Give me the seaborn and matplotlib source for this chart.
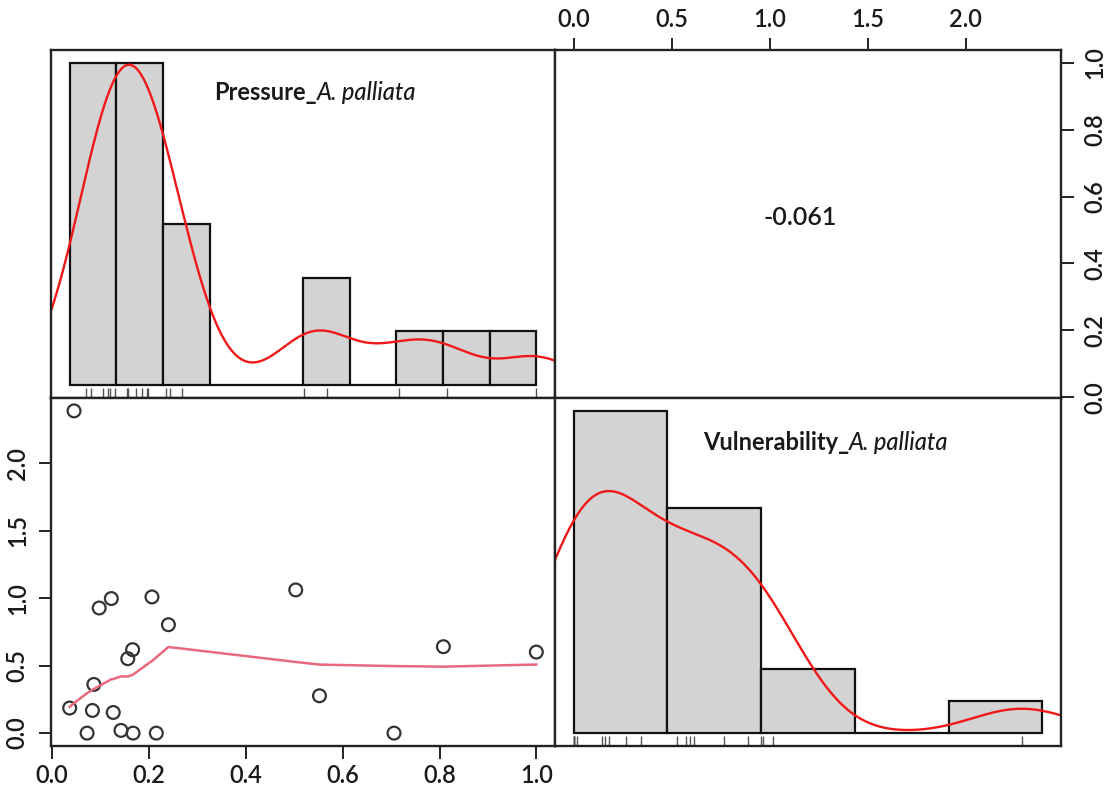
import numpy as np
import matplotlib
matplotlib.use("Agg")
import matplotlib.pyplot as plt
import seaborn as sns

# ---------------- data ----------------
pressure = [0.045, 0.036, 0.072, 0.083, 0.086, 0.097, 0.122, 0.126, 0.142, 0.156,
            0.166, 0.167, 0.206, 0.215, 0.240, 0.503, 0.552, 0.706, 0.808, 1.000]
vulnerability = [2.39, 0.186, 0.0, 0.168, 0.361, 0.928, 0.998, 0.153, 0.02, 0.552,
                 0.619, 0.0, 1.01, 0.0, 0.804, 1.062, 0.277, 0.0, 0.641, 0.601]
pressure_breaks = [0.0, 0.1, 0.2, 0.3, 0.4, 0.5, 0.6, 0.7, 0.8, 0.9, 1.0]
vulnerability_breaks = [0.0, 0.5, 1.0, 1.5, 2.0, 2.5]
pressure_ticks = [0.0, 0.2, 0.4, 0.6, 0.8, 1.0]
pressure_ticks_right = [0.0, 0.2, 0.4, 0.6, 0.8, 1.0]
vulnerability_ticks = [0.0, 0.5, 1.0, 1.5, 2.0]
corr_label = "-0.061"
var_bold = ["Pressure_", "Vulnerability_"]
var_italic = ["A. palliata", "A. palliata"]

plt.rcParams['font.family'] = ['Lato', 'DejaVu Sans']
FS = 17
EDGE = "#222222"
TICKW = "semibold"


def nrd0(x):
    x = np.asarray(x, float)
    sd = np.std(x, ddof=1)
    q75, q25 = np.percentile(x, [75, 25])
    lo = min(sd, (q75 - q25) / 1.34)
    return 0.9 * lo * len(x) ** (-0.2)


def lowess_r(x, y, f=2 / 3, iters=3):
    order = np.argsort(x, kind="stable")
    x = np.asarray(x, float)[order]
    y = np.asarray(y, float)[order]
    n = len(x)
    ns = max(min(int(f * n + 1e-7), n), 2)
    rng = x[-1] - x[0]
    rw = np.ones(n)
    ys = np.zeros(n)
    for it in range(iters + 1):
        nleft, nright = 0, ns - 1
        for i in range(n):
            while nright < n - 1 and x[i] - x[nleft] > x[nright + 1] - x[i]:
                nleft += 1
                nright += 1
            h = max(x[i] - x[nleft], x[nright] - x[i])
            h9, h1 = 0.999 * h, 0.001 * h
            w = np.zeros(n)
            for j in range(nleft, n):
                r = abs(x[j] - x[i])
                if r <= h9:
                    w[j] = 1.0 if r <= h1 else (1 - (r / h) ** 3) ** 3
                    w[j] *= rw[j]
                elif x[j] > x[i]:
                    break
            a = w.sum()
            if a <= 0:
                ys[i] = y[i]
                continue
            w = w / a
            if h > 0:
                a = np.sum(w * x)
                b = x[i] - a
                c = np.sum(w * (x - a) ** 2)
                if np.sqrt(c) > 0.001 * rng:
                    b = b / c
                    w = w * (b * (x - a) + 1.0)
            ys[i] = np.sum(w * y)
        if it == iters:
            break
        res = np.abs(y - ys)
        sc = res.mean()
        cmad = 6 * np.median(res)
        if cmad < 1e-7 * sc:
            break
        c9, c1 = 0.999 * cmad, 0.001 * cmad
        rw = np.where(res <= c1, 1.0,
                      np.where(res <= c9, (1 - (res / cmad) ** 2) ** 2, 0.0))
    return x, ys


def ext(v):
    lo, hi = min(v), max(v)
    d = 0.04 * (hi - lo)
    return lo - d, hi + d


fig = plt.figure(figsize=(11.08, 7.89), dpi=100)
L, M, R = 51 / 1108, 555 / 1108, 1061 / 1108
T, MID, B = 1 - 50 / 789, 1 - 398 / 789, 1 - 746 / 789
ax_tl = fig.add_axes([L, MID, M - L, T - MID])
ax_tr = fig.add_axes([M, MID, R - M, T - MID])
ax_bl = fig.add_axes([L, B, M - L, MID - B])
ax_br = fig.add_axes([M, B, R - M, MID - B])

for ax in (ax_tl, ax_tr, ax_bl, ax_br):
    for sp in ax.spines.values():
        sp.set_color(EDGE)
        sp.set_linewidth(1.7)
    ax.set_facecolor("white")


def diag(ax, data, breaks, bold, ital, tx, ty):
    sns.histplot(x=data, bins=breaks, stat="density", color="#D3D3D3",
                 edgecolor="#111111", linewidth=1.6, alpha=1, ax=ax)
    bw = nrd0(data)
    factor = bw / np.std(data, ddof=1)
    sns.kdeplot(x=data, bw_method=factor, cut=3, gridsize=512, color="#F01818",
                lw=1.7, ax=ax)
    sns.rugplot(x=data, height=0.03, color="#555555", lw=1.0,
                expand_margins=False, ax=ax)
    b0, b1 = breaks[0], breaks[-1]
    pad = 0.04 * (b1 - b0)
    ax.set_xlim(b0 - pad, b1 + pad)
    dmax = np.histogram(data, bins=breaks, density=True)[0].max()
    ax.set_ylim(-0.04 * dmax, 1.04 * dmax)
    ax.set_xticks([])
    ax.set_yticks([])
    ax.set_xlabel("")
    ax.set_ylabel("")
    t1 = ax.text(tx, ty, bold, transform=ax.transAxes, fontsize=FS,
                 fontweight="bold", ha="left", va="baseline", color="#1a1a1a")
    ax.annotate(ital, xy=(1, 0), xycoords=t1, fontsize=FS, fontstyle="italic",
                fontweight="medium", ha="left", va="bottom", color="#1a1a1a")


diag(ax_tl, pressure, pressure_breaks, var_bold[0], var_italic[0], 0.323, 0.855)
diag(ax_br, vulnerability, vulnerability_breaks, var_bold[1], var_italic[1], 0.292, 0.85)

# scatter panel
sns.scatterplot(x=pressure, y=vulnerability, ax=ax_bl, s=85, marker="o",
                facecolor="none", edgecolor="#333333", linewidth=1.6)
lx, ly = lowess_r(pressure, vulnerability)
sns.lineplot(x=lx, y=ly, sort=False, estimator=None, color="#E8697D", lw=1.8,
             ax=ax_bl)
ax_bl.set_xlim(*ext(pressure))
ax_bl.set_ylim(*ext(vulnerability))
ax_bl.set_xticks(pressure_ticks)
ax_bl.set_xticklabels([f"{t:.1f}" for t in pressure_ticks], fontweight=TICKW)
ax_bl.set_yticks(vulnerability_ticks)
ax_bl.set_yticklabels([f"{t:.1f}" for t in vulnerability_ticks], rotation=90,
                      va="center", fontweight=TICKW)
ax_bl.tick_params(axis="both", direction="out", length=9, width=1.4,
                  colors=EDGE, labelsize=FS, labelcolor="#1a1a1a")
ax_bl.tick_params(axis="x", pad=4)
ax_bl.tick_params(axis="y", pad=7)
ax_bl.set_xlabel("")
ax_bl.set_ylabel("")

# correlation panel
ax_tr.set_xlim(*ext(vulnerability))
ax_tr.set_ylim(*ext(pressure))
ax_tr.xaxis.tick_top()
ax_tr.yaxis.tick_right()
ax_tr.set_xticks(vulnerability_ticks)
ax_tr.set_xticklabels([f"{t:.1f}" for t in vulnerability_ticks], fontweight=TICKW)
ax_tr.set_yticks(pressure_ticks_right)
ax_tr.set_yticklabels([f"{t:.1f}" for t in pressure_ticks_right], rotation=90,
                      va="center", fontweight=TICKW)
ax_tr.tick_params(axis="both", direction="out", length=9, width=1.4,
                  colors=EDGE, labelsize=FS, labelcolor="#1a1a1a")
ax_tr.tick_params(axis="x", pad=5)
ax_tr.tick_params(axis="y", pad=7)
ax_tr.text(0.485, 0.52, corr_label, transform=ax_tr.transAxes, fontsize=FS + 1,
           fontweight=TICKW, ha="center", va="center", color="#1a1a1a")

fig.savefig("out.png", dpi=100, facecolor="white")
